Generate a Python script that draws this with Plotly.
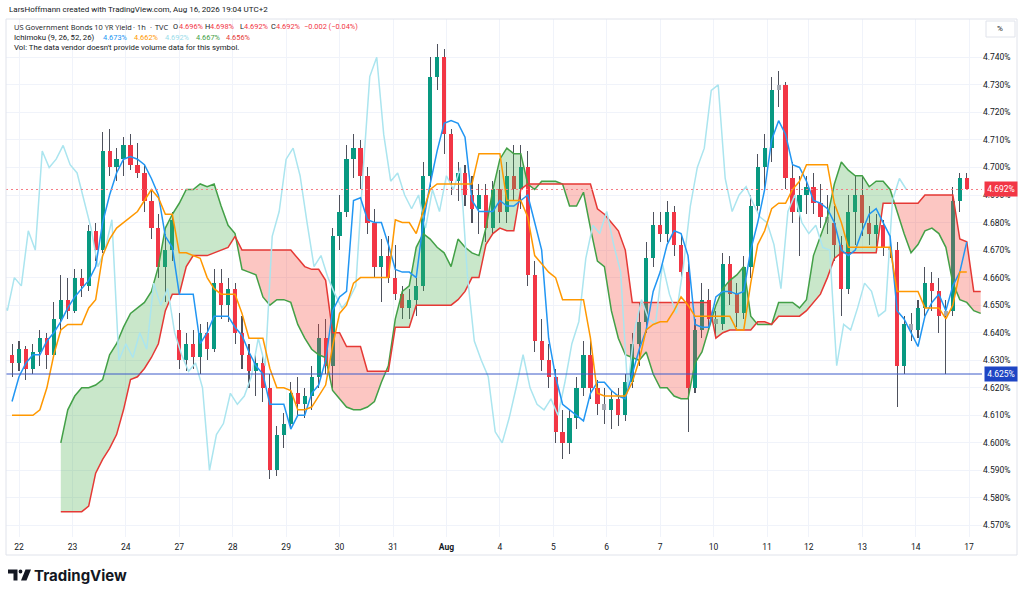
import plotly.graph_objects as go

# ---------------- data ----------------
candle_start = -3      # bar index (hours) of first candle
bar_step = 3           # hours per candle
span_start = 18        # bar index of first cloud sample
chikou_shift = 26      # lagging span displacement (bars)

opens = [
    4.632, 4.629, 4.634, 4.627, 4.633, 4.638, 4.632, 4.645, 4.652, 4.648,
    4.660, 4.657, 4.677, 4.670, 4.706, 4.700, 4.703, 4.708, 4.701, 4.698,
    4.688, 4.678, 4.664, 4.670, 4.641, 4.630, 4.636, 4.631, 4.640, 4.634,
    4.658, 4.650, 4.656, 4.640, 4.632, 4.626, 4.629, 4.620, 4.590, 4.603,
    4.607, 4.618, 4.614, 4.617, 4.624, 4.638, 4.628, 4.675, 4.684, 4.703,
    4.707, 4.697, 4.680, 4.664, 4.668, 4.660, 4.654, 4.649, 4.652, 4.657,
    4.697, 4.733, 4.740, 4.712, 4.695, 4.698, 4.690, 4.685, 4.690, 4.678,
    4.692, 4.684, 4.697, 4.692, 4.700, 4.661, 4.637, 4.630, 4.624, 4.604,
    4.600, 4.609, 4.620, 4.632, 4.620, 4.614, 4.612, 4.616, 4.610, 4.622,
    4.636, 4.644, 4.667, 4.679, 4.676, 4.684, 4.672, 4.662, 4.620, 4.641,
    4.652, 4.645, 4.643, 4.665, 4.654, 4.647, 4.664, 4.686, 4.700, 4.707,
    4.728, 4.730, 4.696, 4.684, 4.690, 4.693, 4.687, 4.682, 4.680, 4.672,
    4.656, 4.684, 4.690, 4.680, 4.676, 4.679, 4.671, 4.670, 4.628, 4.643,
    4.641, 4.649, 4.658, 4.655, 4.646, 4.648, 4.688, 4.696,
]
highs = [
    4.636, 4.637, 4.635, 4.636, 4.641, 4.640, 4.651, 4.661, 4.660, 4.663,
    4.663, 4.679, 4.680, 4.713, 4.714, 4.707, 4.711, 4.712, 4.709, 4.701,
    4.692, 4.683, 4.676, 4.684, 4.647, 4.640, 4.641, 4.643, 4.644, 4.663,
    4.663, 4.660, 4.658, 4.646, 4.636, 4.633, 4.632, 4.625, 4.606, 4.611,
    4.622, 4.624, 4.620, 4.628, 4.643, 4.645, 4.678, 4.690, 4.708, 4.712,
    4.710, 4.700, 4.685, 4.674, 4.675, 4.672, 4.657, 4.656, 4.660, 4.702,
    4.740, 4.745, 4.743, 4.714, 4.702, 4.701, 4.697, 4.694, 4.694, 4.695,
    4.699, 4.702, 4.708, 4.708, 4.706, 4.666, 4.645, 4.636, 4.627, 4.612,
    4.612, 4.624, 4.637, 4.638, 4.623, 4.620, 4.619, 4.620, 4.625, 4.640,
    4.651, 4.673, 4.684, 4.684, 4.688, 4.686, 4.676, 4.665, 4.645, 4.658,
    4.656, 4.648, 4.669, 4.668, 4.658, 4.668, 4.690, 4.705, 4.712, 4.733,
    4.735, 4.731, 4.702, 4.697, 4.697, 4.698, 4.694, 4.690, 4.686, 4.675,
    4.690, 4.697, 4.697, 4.686, 4.683, 4.681, 4.675, 4.673, 4.646, 4.647,
    4.652, 4.664, 4.662, 4.660, 4.652, 4.693, 4.698, 4.698,
]
lows = [
    4.624, 4.626, 4.623, 4.625, 4.628, 4.627, 4.631, 4.640, 4.645, 4.647,
    4.653, 4.655, 4.666, 4.669, 4.697, 4.695, 4.697, 4.699, 4.696, 4.684,
    4.674, 4.660, 4.651, 4.666, 4.627, 4.626, 4.627, 4.625, 4.630, 4.633,
    4.645, 4.644, 4.636, 4.627, 4.620, 4.617, 4.615, 4.587, 4.588, 4.598,
    4.605, 4.610, 4.609, 4.612, 4.620, 4.625, 4.620, 4.670, 4.682, 4.696,
    4.692, 4.676, 4.660, 4.651, 4.658, 4.652, 4.645, 4.645, 4.646, 4.655,
    4.693, 4.728, 4.705, 4.690, 4.688, 4.686, 4.680, 4.676, 4.673, 4.676,
    4.680, 4.680, 4.688, 4.685, 4.657, 4.633, 4.626, 4.620, 4.600, 4.594,
    4.596, 4.605, 4.617, 4.616, 4.610, 4.607, 4.605, 4.606, 4.608, 4.620,
    4.628, 4.640, 4.664, 4.673, 4.673, 4.668, 4.659, 4.604, 4.618, 4.638,
    4.641, 4.639, 4.641, 4.650, 4.642, 4.645, 4.660, 4.684, 4.692, 4.702,
    4.722, 4.692, 4.680, 4.668, 4.683, 4.683, 4.678, 4.676, 4.666, 4.646,
    4.654, 4.672, 4.675, 4.672, 4.671, 4.668, 4.667, 4.613, 4.625, 4.637,
    4.638, 4.646, 4.648, 4.640, 4.625, 4.646, 4.684, 4.692,
]
closes = [
    4.629, 4.634, 4.627, 4.633, 4.638, 4.632, 4.645, 4.652, 4.648, 4.660,
    4.657, 4.677, 4.670, 4.706, 4.700, 4.703, 4.708, 4.701, 4.698, 4.688,
    4.678, 4.664, 4.670, 4.681, 4.630, 4.636, 4.631, 4.640, 4.634, 4.658,
    4.650, 4.656, 4.640, 4.632, 4.626, 4.629, 4.620, 4.590, 4.603, 4.607,
    4.618, 4.614, 4.617, 4.624, 4.638, 4.628, 4.675, 4.684, 4.703, 4.707,
    4.697, 4.680, 4.664, 4.668, 4.660, 4.654, 4.649, 4.652, 4.657, 4.697,
    4.733, 4.740, 4.712, 4.695, 4.698, 4.690, 4.685, 4.690, 4.678, 4.692,
    4.684, 4.697, 4.692, 4.700, 4.661, 4.637, 4.630, 4.624, 4.604, 4.600,
    4.609, 4.620, 4.632, 4.620, 4.614, 4.612, 4.616, 4.610, 4.622, 4.636,
    4.644, 4.667, 4.679, 4.676, 4.684, 4.672, 4.662, 4.620, 4.641, 4.652,
    4.645, 4.643, 4.665, 4.654, 4.647, 4.664, 4.686, 4.700, 4.707, 4.728,
    4.730, 4.696, 4.684, 4.690, 4.693, 4.687, 4.682, 4.680, 4.672, 4.656,
    4.684, 4.690, 4.680, 4.676, 4.679, 4.671, 4.670, 4.628, 4.643, 4.641,
    4.649, 4.658, 4.655, 4.646, 4.648, 4.688, 4.696, 4.692,
]
tenkan = [
    4.615, 4.624, 4.629, 4.632, 4.632, 4.637, 4.640, 4.644, 4.649, 4.653,
    4.656, 4.659, 4.664, 4.680, 4.690, 4.698, 4.703, 4.704, 4.703, 4.701,
    4.696, 4.690, 4.675, 4.671, 4.654, 4.654, 4.654, 4.636, 4.640, 4.646,
    4.646, 4.646, 4.642, 4.639, 4.633, 4.628, 4.625, 4.614, 4.614, 4.614,
    4.605, 4.610, 4.610, 4.618, 4.621, 4.630, 4.648, 4.653, 4.655, 4.688,
    4.689, 4.681, 4.680, 4.680, 4.672, 4.663, 4.662, 4.662, 4.660, 4.680,
    4.694, 4.706, 4.716, 4.717, 4.716, 4.711, 4.688, 4.684, 4.684, 4.684,
    4.688, 4.686, 4.686, 4.688, 4.690, 4.680, 4.670, 4.638, 4.624, 4.614,
    4.612, 4.610, 4.608, 4.618, 4.622, 4.622, 4.619, 4.617, 4.616, 4.625,
    4.634, 4.641, 4.655, 4.662, 4.672, 4.677, 4.676, 4.668, 4.643, 4.642,
    4.642, 4.653, 4.655, 4.655, 4.654, 4.655, 4.670, 4.680, 4.692, 4.710,
    4.717, 4.712, 4.701, 4.700, 4.695, 4.688, 4.687, 4.685, 4.680, 4.670,
    4.668, 4.670, 4.677, 4.683, 4.685, 4.680, 4.675, 4.648, 4.645, 4.640,
    4.635, 4.646, 4.651, 4.654, 4.648, 4.657, 4.662, 4.673,
]
kijun = [
    4.610, 4.610, 4.610, 4.610, 4.612, 4.620, 4.632, 4.641, 4.643, 4.643,
    4.643, 4.649, 4.652, 4.668, 4.674, 4.678, 4.680, 4.682, 4.684, 4.688,
    4.692, 4.689, 4.683, 4.683, 4.669, 4.669, 4.668, 4.667, 4.660, 4.656,
    4.654, 4.654, 4.654, 4.647, 4.638, 4.638, 4.638, 4.627, 4.620, 4.620,
    4.619, 4.612, 4.612, 4.613, 4.617, 4.621, 4.635, 4.647, 4.650, 4.658,
    4.660, 4.660, 4.660, 4.660, 4.660, 4.681, 4.680, 4.680, 4.676, 4.684,
    4.692, 4.694, 4.694, 4.694, 4.694, 4.694, 4.694, 4.705, 4.705, 4.705,
    4.705, 4.688, 4.688, 4.688, 4.682, 4.668, 4.665, 4.662, 4.660, 4.652,
    4.652, 4.652, 4.652, 4.638, 4.618, 4.617, 4.617, 4.617, 4.617, 4.622,
    4.630, 4.641, 4.643, 4.644, 4.644, 4.648, 4.653, 4.650, 4.646, 4.646,
    4.646, 4.646, 4.646, 4.646, 4.641, 4.641, 4.658, 4.672, 4.677, 4.685,
    4.687, 4.687, 4.692, 4.695, 4.701, 4.701, 4.701, 4.701, 4.687, 4.680,
    4.671, 4.671, 4.671, 4.671, 4.671, 4.671, 4.671, 4.655, 4.655, 4.655,
    4.655, 4.649, 4.649, 4.649, 4.645, 4.650, 4.662, 4.662,
]
span_a = [
    4.600, 4.612, 4.617, 4.620, 4.620, 4.621, 4.623, 4.632, 4.636, 4.642,
    4.647, 4.649, 4.651, 4.655, 4.664, 4.678, 4.683, 4.687, 4.692, 4.692,
    4.694, 4.693, 4.694, 4.686, 4.679, 4.676, 4.663, 4.662, 4.661, 4.653,
    4.650, 4.652, 4.652, 4.651, 4.643, 4.638, 4.634, 4.632, 4.631, 4.619,
    4.616, 4.613, 4.612, 4.612, 4.613, 4.615, 4.622, 4.628, 4.645, 4.655,
    4.657, 4.671, 4.676, 4.674, 4.671, 4.669, 4.664, 4.674, 4.671, 4.669,
    4.668, 4.678, 4.692, 4.703, 4.707, 4.705, 4.705, 4.694, 4.692, 4.695,
    4.695, 4.695, 4.694, 4.686, 4.686, 4.691, 4.678, 4.666, 4.664, 4.648,
    4.638, 4.632, 4.631, 4.630, 4.633, 4.625, 4.620, 4.620, 4.617, 4.616,
    4.616, 4.629, 4.633, 4.642, 4.650, 4.656, 4.659, 4.661, 4.664, 4.646,
    4.643, 4.643, 4.643, 4.651, 4.651, 4.651, 4.649, 4.652, 4.668, 4.675,
    4.682, 4.694, 4.702, 4.699, 4.697, 4.697, 4.693, 4.695, 4.695, 4.692,
    4.684, 4.676, 4.669, 4.672, 4.677, 4.678, 4.676, 4.671, 4.658, 4.652,
    4.651, 4.648, 4.647,
]
span_b = [
    4.575, 4.575, 4.575, 4.575, 4.577, 4.589, 4.594, 4.598, 4.603, 4.612,
    4.623, 4.624, 4.627, 4.631, 4.636, 4.648, 4.654, 4.654, 4.664, 4.668,
    4.668, 4.668, 4.669, 4.670, 4.671, 4.675, 4.670, 4.670, 4.670, 4.670,
    4.670, 4.670, 4.670, 4.670, 4.667, 4.664, 4.663, 4.663, 4.659, 4.640,
    4.640, 4.635, 4.635, 4.635, 4.626, 4.626, 4.626, 4.626, 4.642, 4.642,
    4.642, 4.650, 4.650, 4.650, 4.650, 4.650, 4.650, 4.652, 4.655, 4.660,
    4.660, 4.672, 4.676, 4.678, 4.677, 4.677, 4.692, 4.694, 4.694, 4.694,
    4.694, 4.694, 4.694, 4.694, 4.694, 4.694, 4.694, 4.685, 4.683, 4.680,
    4.677, 4.670, 4.651, 4.651, 4.651, 4.651, 4.651, 4.651, 4.651, 4.651,
    4.651, 4.651, 4.651, 4.651, 4.638, 4.640, 4.641, 4.641, 4.641, 4.641,
    4.644, 4.644, 4.643, 4.646, 4.646, 4.646, 4.646, 4.648, 4.651, 4.654,
    4.660, 4.667, 4.669, 4.669, 4.669, 4.669, 4.669, 4.669, 4.687, 4.687,
    4.687, 4.687, 4.687, 4.687, 4.690, 4.690, 4.690, 4.690, 4.690, 4.674,
    4.673, 4.655, 4.655,
]
day_labels = ["22", "23", "24", "27", "28", "29", "30", "31", "<b>Aug</b>", "4", "5",
              "6", "7", "10", "11", "12", "13", "14", "17"]
day_bars = [0, 23, 46, 69, 92, 115, 138, 161, 184, 207, 230, 253, 276, 299, 322,
            340, 363, 386, 409]
price_ticks = [4.570, 4.580, 4.590, 4.600, 4.610, 4.620, 4.630, 4.640, 4.650,
               4.660, 4.670, 4.680, 4.690, 4.700, 4.710, 4.720, 4.730, 4.740]
last_price = 4.692
hline_price = 4.625
ohlc_labels = ["O", "H", "L", "C"]
ohlc_values = ["4.696%", "4.698%", "4.692%", "4.692%"]
change_text = "−0.002 (−0.04%)"
ichimoku_values = ["4.673%", "4.662%", "4.692%", "4.667%", "4.656%"]

# ---------------- geometry helpers ----------------
W, H = 1024, 594
ML, MR, MT, MB = 6, 42, 19, 57
PW, PH = W - ML - MR, H - MT - MB


def fx(px):
    return (px - ML) / PW


def fy(py):
    return (MT + PH - py) / PH


UP, DN, FLAT, WICK = "#089981", "#F23645", "#A6A9B2", "#4E515C"
C_TEN, C_KIJ, C_CHI = "#2196F3", "#FF9800", "#ABE5EF"
C_SA, C_SB = "#43A047", "#E53935"
F_G, F_R = "rgba(76,175,80,0.30)", "rgba(244,67,54,0.30)"

n = len(closes)
cx = [candle_start + bar_step * i for i in range(n)]
sx = [span_start + bar_step * i for i in range(len(span_a))]

body_col = []
for o, c in zip(opens, closes):
    if abs(c - o) < 0.0021:
        body_col.append(FLAT)
    elif c > o:
        body_col.append(UP)
    else:
        body_col.append(DN)

fig = go.Figure()

# wicks and bodies (bar layer, below the indicator lines)
fig.add_trace(go.Bar(x=cx, base=lows, y=[h - l for h, l in zip(highs, lows)],
                     width=0.45, marker=dict(color=WICK, line=dict(width=0)),
                     hoverinfo="skip"))
fig.add_trace(go.Bar(x=cx, base=[min(o, c) for o, c in zip(opens, closes)],
                     y=[max(abs(c - o), 0.0005) for o, c in zip(opens, closes)],
                     width=1.8, marker=dict(color=body_col, line=dict(width=0)),
                     hoverinfo="skip"))


# cloud fill, split where span A and span B cross
def cloud_regions(xs, a, b):
    regions = []
    cur = None
    for i in range(len(xs)):
        s = a[i] >= b[i]
        if cur is None:
            cur = [s, [xs[i]], [a[i]], [b[i]]]
            continue
        if s != cur[0]:
            d0, d1 = a[i - 1] - b[i - 1], a[i] - b[i]
            t = d0 / (d0 - d1)
            xc = xs[i - 1] + t * (xs[i] - xs[i - 1])
            yc = a[i - 1] + t * (a[i] - a[i - 1])
            cur[1].append(xc); cur[2].append(yc); cur[3].append(yc)
            regions.append(cur)
            cur = [s, [xc, xs[i]], [yc, a[i]], [yc, b[i]]]
        else:
            cur[1].append(xs[i]); cur[2].append(a[i]); cur[3].append(b[i])
    regions.append(cur)
    return regions


for s, xl, al, bl in cloud_regions(sx, span_a, span_b):
    fig.add_trace(go.Scatter(x=xl + xl[::-1], y=al + bl[::-1], mode="lines",
                             fill="toself", fillcolor=F_G if s else F_R,
                             line=dict(width=0), hoverinfo="skip"))

fig.add_trace(go.Scatter(x=sx, y=span_a, mode="lines",
                         line=dict(color=C_SA, width=1.5), hoverinfo="skip"))
fig.add_trace(go.Scatter(x=sx, y=span_b, mode="lines",
                         line=dict(color=C_SB, width=1.5), hoverinfo="skip"))
fig.add_trace(go.Scatter(x=[x - chikou_shift for x in cx], y=closes, mode="lines",
                         line=dict(color=C_CHI, width=1.5), hoverinfo="skip"))
fig.add_trace(go.Scatter(x=cx, y=tenkan, mode="lines",
                         line=dict(color=C_TEN, width=1.5), hoverinfo="skip"))
fig.add_trace(go.Scatter(x=cx, y=kijun, mode="lines",
                         line=dict(color=C_KIJ, width=1.5), hoverinfo="skip"))

px_per_bar = (969.1 - 19.0) / (day_bars[-1] - day_bars[0])
x0 = day_bars[0] - (19.0 - ML) / px_per_bar
x1 = x0 + PW / px_per_bar
ypx = 2754.0  # pixels per unit price
y_hi = 4.740 + (57.3 - MT) / ypx
y_lo = 4.740 - (MT + PH - 57.3) / ypx

GRID = "#F0F3FA"
TXT = "#131722"
FONT = "Roboto"

fig.update_layout(
    width=W, height=H,
    margin=dict(l=ML, r=MR, t=MT, b=MB),
    paper_bgcolor="white", plot_bgcolor="white",
    showlegend=False, barmode="overlay", bargap=0,
    hovermode=False,
    font=dict(family=FONT, color=TXT, size=8.5),
    xaxis=dict(range=[x0, x1], tickmode="array", tickvals=day_bars,
               ticktext=day_labels, showgrid=True, gridcolor=GRID, gridwidth=1,
               zeroline=False, showline=False, ticks="", ticklabelstandoff=3,
               tickfont=dict(family=FONT, size=8.5, color=TXT)),
    yaxis=dict(range=[y_lo, y_hi], side="right", tickmode="array",
               tickvals=price_ticks,
               ticktext=["%.3f%%" % v for v in price_ticks],
               showgrid=True, gridcolor=GRID, gridwidth=1, zeroline=False,
               showline=False, ticks="",
               tickfont=dict(family=FONT, size=8.5, color=TXT)),
)

shapes = []
# last-price dotted line and horizontal level line
shapes.append(dict(type="line", xref="paper", yref="y", x0=0, x1=1,
                   y0=last_price, y1=last_price,
                   line=dict(color="#F47C85", width=1, dash="2px,3px")))
shapes.append(dict(type="line", xref="paper", yref="y", x0=0, x1=1,
                   y0=hline_price, y1=hline_price,
                   line=dict(color="#3D5AC8", width=1)))
# outer frame
shapes.append(dict(type="rect", xref="paper", yref="paper",
                   x0=fx(6), x1=fx(1017), y0=fy(555), y1=fy(19),
                   line=dict(color="#E0E3EB", width=1), layer="above"))
# "%" box
shapes.append(dict(type="rect", xref="paper", yref="paper",
                   x0=fx(986), x1=fx(1015), y0=fy(37), y1=fy(21),
                   line=dict(color="#E0E3EB", width=1), fillcolor="white"))


# TradingView logo pieces
def ppath(pts):
    return "M " + " L ".join("%.5f,%.5f" % (fx(a), fy(b)) for a, b in pts) + " Z"


shapes.append(dict(type="path", xref="paper", yref="paper",
                   path=ppath([(8, 569.5), (17.5, 569.5), (17.5, 580.5),
                               (13.5, 580.5), (13.5, 573.5), (8, 573.5)]),
                   fillcolor=TXT, line=dict(width=0)))
shapes.append(dict(type="circle", xref="paper", yref="paper",
                   x0=fx(18.6), x1=fx(22.4), y0=fy(573.4), y1=fy(569.6),
                   fillcolor=TXT, line=dict(width=0)))
shapes.append(dict(type="path", xref="paper", yref="paper",
                   path=ppath([(25.5, 569.5), (31, 569.5), (26.5, 580.5),
                               (21, 580.5)]),
                   fillcolor=TXT, line=dict(width=0)))
fig.update_layout(shapes=shapes)

HS = 7.8   # legend text size
VS = 7.4   # legend value size
TS = 7.4   # title size (Open Sans)
ann = []


def label(txt, px, py, size=HS, color=TXT, anchor="left", family=FONT):
    ann.append(dict(text=txt, xref="paper", yref="paper", x=fx(px), y=fy(py),
                    xanchor=anchor, yanchor="middle", showarrow=False,
                    font=dict(family=family, size=size, color=color)))


label("LarsHoffmann created with TradingView.com, Aug 16, 2026 19:04 UTC+2", 7, 9, 8)
# title pieces
label("US Government Bonds 10 YR Yield", 12, 27, TS, family="Open Sans")
label("·", 130.5, 27, TS, family="Open Sans")
label("1h", 135, 27, TS, family="Open Sans")
label("·", 147.5, 27, TS, family="Open Sans")
label("TVC", 153, 27, TS, family="Open Sans")
for lab, val, lx, vx in zip(ohlc_labels, ohlc_values,
                            [171, 203, 238, 269], [176.5, 207.5, 242, 274]):
    label(lab, lx, 27, VS)
    label(val, vx, 27, VS, color="#F23645")
label(change_text, 302, 27, VS, color="#F23645")
label("Ichimoku (9, 26, 52, 26)", 12, 37)
for val, c, px in zip(ichimoku_values, [C_TEN, C_KIJ, "#9ADDEA", C_SA, "#E53935"],
                      [101, 132, 163, 194, 224]):
    label(val, px, 37, VS, color=c)
label("Vol: The data vendor doesn't provide volume data for this symbol.", 12, 47.5)
label("%", 1000.5, 29, 8, anchor="center")

for price, bg in [(last_price, "#F23645"), (hline_price, "#1E45C4")]:
    ann.append(dict(text="%.3f%%" % price, xref="paper", yref="y", x=fx(984),
                    y=price, xanchor="left", yanchor="middle", showarrow=False,
                    bgcolor=bg, borderpad=2, width=28, align="center",
                    font=dict(family=FONT, size=8.5, color="white")))
ann.append(dict(text="<b>TradingView</b>", xref="paper", yref="paper", x=fx(32),
                y=fy(575), xanchor="left", yanchor="middle", showarrow=False,
                font=dict(family="Inter", size=15, color=TXT)))
fig.update_layout(annotations=ann)

fig.write_html("out.html",
               config={"displayModeBar": False, "staticPlot": True},
               post_script="document.body.style.margin='0';"
                           "document.body.style.overflow='hidden';")
